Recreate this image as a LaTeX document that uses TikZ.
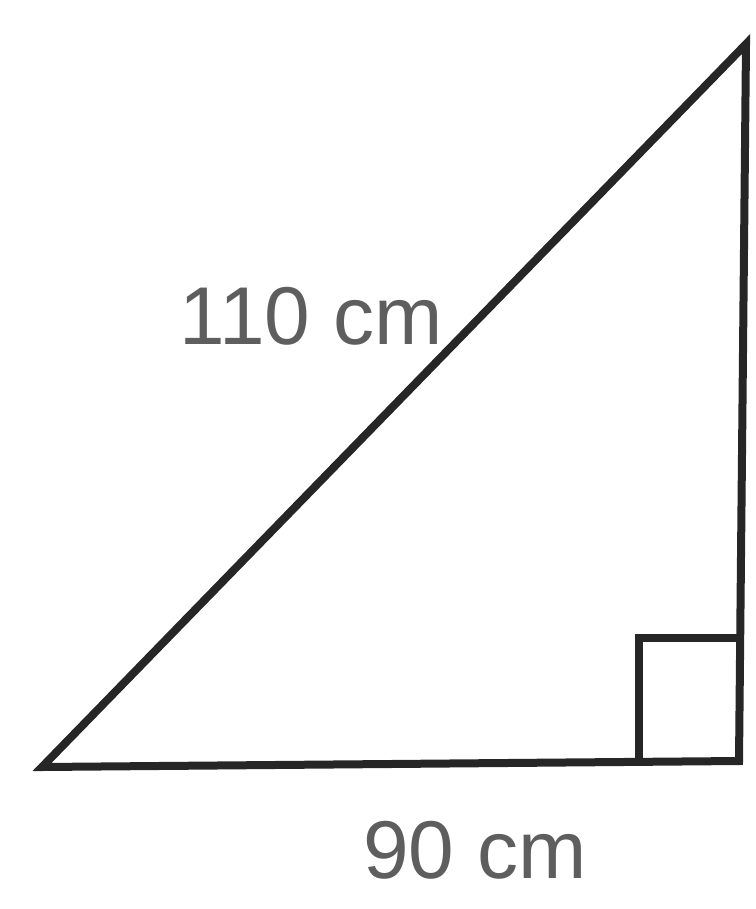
\documentclass[tikz,border=0pt]{standalone}
\usepackage{fontspec}
\setmainfont{Liberation Sans}
\usepackage{xcolor}
\definecolor{edgeInk}{HTML}{262626}
\definecolor{labelInk}{HTML}{5E5E5E}
\usepackage{tikz}
\usetikzlibrary{calc}

\begin{document}
\begin{tikzpicture}[x=0.5pt, y=-0.5pt]
  \useasboundingbox (0,0) rectangle (755,909);
  % ---------- vertices ----------
  \coordinate (left) at (42,767);
  \coordinate (top) at (746,44);
  \coordinate (corner) at (739,761);
  % ---------- triangle ----------
  \draw[edgeInk, line width=4pt, line join=miter] (left) -- (top) -- (corner) -- cycle;
  % right-angle mark
  \draw[edgeInk, line width=4pt] (639,761) -- (639,638) -- (740,638);
  % ---------- side lengths ----------
  \node[labelInk, inner sep=0pt, font=\fontsize{41}{48}\selectfont] (hyp) at (311,316) {110 cm};
  \node[labelInk, inner sep=0pt, font=\fontsize{41}{48}\selectfont] (base) at (475,850) {90 cm};
\end{tikzpicture}
\end{document}
